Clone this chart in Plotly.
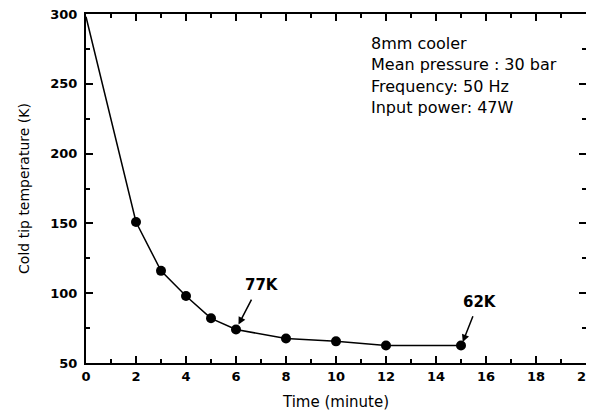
import plotly.graph_objects as go

time_min = [0, 2, 3, 4, 5, 6, 8, 10, 12, 15]
temp_k = [298, 151, 116, 98, 82, 74, 67.5, 65.5, 62.5, 62.5]
marker_sizes = [0, 10, 10, 10, 10, 10, 10, 10, 10, 10]

info_lines = ["8mm cooler", "Mean pressure : 30 bar", "Frequency: 50 Hz", "Input power: 47W"]
info_y = [279, 263.5, 248.3, 232.7]

fig = go.Figure()
fig.add_trace(go.Scatter(
    x=time_min, y=temp_k, mode="lines+markers",
    line=dict(color="black", width=1.5),
    marker=dict(color="black", size=marker_sizes, opacity=1, line=dict(color="black", width=0)),
    showlegend=False, cliponaxis=False,
))

font = "DejaVu Sans, Arial, sans-serif"
boldfont = dict(family=font, size=13, color="black", weight="bold")

axis_common = dict(
    showline=True, linecolor="black", linewidth=2, mirror="ticks",
    ticks="inside", ticklen=7, tickwidth=2, tickcolor="black",
    showgrid=False, zeroline=False, automargin=False,
    tickfont=boldfont, ticklabeloverflow="allow",
)

fig.update_xaxes(
    range=[0, 20], dtick=2, tick0=0,
    minor=dict(dtick=1, ticks="inside", ticklen=4, tickwidth=1.5, tickcolor="black"),
    title=dict(text="Time (minute)", font=dict(family=font, size=15, color="black"), standoff=14),
    **axis_common,
)
fig.update_yaxes(
    range=[50, 300], dtick=50, tick0=50, ticklabelstandoff=4,
    minor=dict(dtick=25, ticks="inside", ticklen=4, tickwidth=1.5, tickcolor="black"),
    title=dict(text="Cold tip temperature (K)", font=dict(family=font, size=14, color="black"), standoff=17),
    **axis_common,
)

for txt, yv in zip(info_lines, info_y):
    fig.add_annotation(x=11.3, y=yv, text=txt, showarrow=False, xanchor="left", yanchor="middle",
                       font=dict(family=font, size=16, color="black"))

# 77K label and arrow
fig.add_annotation(x=7.05, y=106, text="77K", showarrow=False,
                   font=dict(family=font, size=15, color="black", weight="bold"))
fig.add_annotation(x=6.1, y=77.5, ax=6.65, ay=96.5, axref="x", ayref="y", text="",
                   showarrow=True, arrowhead=2, arrowsize=1, arrowwidth=1.5, arrowcolor="black")
# 62K label and arrow
fig.add_annotation(x=15.75, y=94, text="62K", showarrow=False,
                   font=dict(family=font, size=15, color="black", weight="bold"))
fig.add_annotation(x=15.07, y=65, ax=15.5, ay=84.5, axref="x", ayref="y", text="",
                   showarrow=True, arrowhead=2, arrowsize=1, arrowwidth=1.5, arrowcolor="black")

# The page body adds an 8px offset, so the figure is sized to fill the rest of the window.
fig.update_layout(
    width=586, height=406,
    margin=dict(l=78, r=8, t=6, b=51),
    plot_bgcolor="white", paper_bgcolor="white",
    font=dict(family=font, color="black"),
)

fig.write_html("out.html")
